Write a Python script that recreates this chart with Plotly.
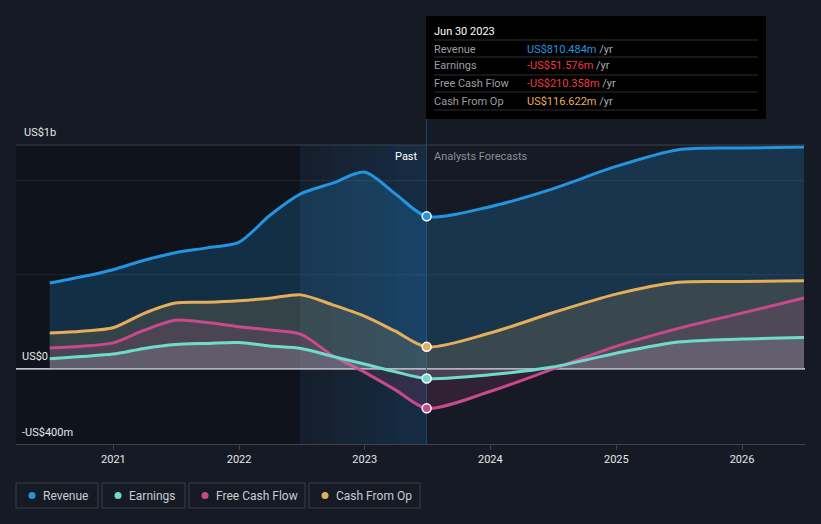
import plotly.graph_objects as go

# ---------------- data (US$ millions) ----------------
past_dates = ["2020-06-30", "2020-09-30", "2020-12-31", "2021-03-31", "2021-06-30",
              "2021-09-30", "2021-12-31", "2022-03-31", "2022-06-30", "2022-09-30",
              "2022-12-31", "2023-03-31", "2023-06-30"]
fc_dates = ["2023-12-31", "2024-06-30", "2024-12-31", "2025-06-30", "2025-12-31", "2026-06-30"]

revenue_past = [456, 489, 527, 577, 617, 643, 672, 815, 931, 987, 1046, 930, 810.484]
revenue_fc = [862, 957, 1076, 1165, 1174, 1179]

earnings_past = [53, 65, 78, 108, 129, 135, 140, 121, 108, 66, 25, -16, -51.576]
earnings_fc = [-32, 9, 83, 142, 158, 166]

fcf_past = [110, 120, 138, 205, 258, 246, 224, 206, 183, 70, -18, -112, -210.358]
fcf_fc = [-121, -2, 119, 215, 296, 376]

cfo_past = [190, 200, 218, 295, 350, 354, 362, 375, 393, 340, 280, 200, 116.622]
cfo_fc = [190, 298, 397, 460, 464, 468]

series_names = ["Revenue", "Earnings", "Free Cash Flow", "Cash From Op"]
tooltip_values = ["US$810.484m", "-US$51.576m", "-US$210.358m", "US$116.622m"]
year_ticks = ["2021", "2022", "2023", "2024", "2025", "2026"]

# ---------------- styling ----------------
W, H = 821, 524
L, R, T, B = 16, 805, 145, 444
BG = "#151a24"
colors = {"Revenue": "#2394df", "Earnings": "#6fdccb", "Free Cash Flow": "#c94a8b", "Cash From Op": "#e5ae5a"}
fills = {"Revenue": "rgba(35,148,223,0.22)", "Earnings": "rgba(180,190,210,0.2)",
         "Free Cash Flow": "rgba(201,74,139,0.16)", "Cash From Op": "rgba(229,174,90,0.16)"}


def px(x):
    return (x - L) / (R - L)


def py(y):
    return (B - y) / (B - T)


dates = past_dates + fc_dates
data = {
    "Revenue": revenue_past + revenue_fc,
    "Earnings": earnings_past + earnings_fc,
    "Free Cash Flow": fcf_past + fcf_fc,
    "Cash From Op": cfo_past + cfo_fc,
}

fig = go.Figure()
for name in ["Revenue", "Cash From Op", "Free Cash Flow", "Earnings"]:
    fig.add_trace(go.Scatter(
        x=dates, y=data[name], mode="lines", name=name,
        line=dict(color=colors[name], width=3, shape="spline", smoothing=0.8),
        fill="tozeroy", fillcolor=fills[name], hoverinfo="skip", showlegend=False))

# markers at Jun 30 2023
for name in ["Revenue", "Cash From Op", "Free Cash Flow", "Earnings"]:
    fig.add_trace(go.Scatter(
        x=[past_dates[-1]], y=[data[name][len(past_dates) - 1]], mode="markers",
        marker=dict(color=colors[name], size=9, line=dict(color="white", width=1.5)),
        hoverinfo="skip", showlegend=False, cliponaxis=False))

shapes = []
# darker past area
shapes.append(dict(type="rect", xref="paper", yref="paper", x0=0, x1=px(300), y0=0, y1=1,
                   fillcolor="rgba(5,8,14,0.35)", line_width=0, layer="below"))
# highlight gradient Jun22 - Jun23
n = 12
for i in range(n):
    x0 = 300 + (426 - 300) * i / n
    x1 = 300 + (426 - 300) * (i + 1) / n
    a = 0.06 + 0.16 * i / (n - 1)
    shapes.append(dict(type="rect", xref="paper", yref="paper", x0=px(x0), x1=px(x1), y0=0, y1=1,
                       fillcolor=f"rgba(30,110,180,{a:.3f})", line_width=0, layer="below"))
# gridlines
for yv in [1000, 500]:
    shapes.append(dict(type="line", xref="paper", yref="y", x0=0, x1=1, y0=yv, y1=yv,
                       line=dict(color="rgba(255,255,255,0.08)", width=1), layer="below"))
shapes.append(dict(type="line", xref="paper", yref="paper", x0=0, x1=1, y0=1, y1=1,
                   line=dict(color="#3d424c", width=1)))
shapes.append(dict(type="line", xref="paper", yref="y", x0=0, x1=1, y0=0, y1=0,
                   line=dict(color="#ffffff", width=1.2), layer="below"))
# vertical line at Jun 30 2023
shapes.append(dict(type="line", xref="paper", yref="paper", x0=px(426.5), x1=px(426.5), y0=0, y1=py(119),
                   line=dict(color="#1f4566", width=1), layer="below"))
# tooltip box
shapes.append(dict(type="rect", xref="paper", yref="paper", x0=px(426), x1=px(766), y0=py(119), y1=py(16),
                   fillcolor="#000000", line_width=0))
for yy in [40, 57, 75, 92, 110]:
    shapes.append(dict(type="line", xref="paper", yref="paper", x0=px(434), x1=px(758), y0=py(yy), y1=py(yy),
                       line=dict(color="#2e2e2e", width=1)))

annotations = []


def text(x, y, s, color="#d4d7dc", size=11, anchor="left", **kw):
    annotations.append(dict(xref="paper", yref="paper", x=px(x), y=py(y), text=s, showarrow=False,
                            xanchor=anchor, yanchor="middle", font=dict(color=color, size=size), **kw))


# tooltip text
text(432, 31, "Jun 30 2023", color="#ffffff", size=11)
row_y = [49, 66, 84, 101]
val_colors = ["#2394df", "#f0393f", "#f0393f", "#e5ae5a"]
for nm, v, c, yy in zip(series_names, tooltip_values, val_colors, row_y):
    text(432, yy, nm, color="#9a9ea6", size=11)
    text(525, yy, f"<span style='color:{c}'>{v}</span> /yr", color="#a8acb3", size=11)

# axis labels
text(22, 132, "US$1b", color="#e6e8eb", size=11)
text(20, 356, "US$0", color="#e6e8eb", size=11)
text(20, 432, "-US$400m", color="#e6e8eb", size=11)
text(420, 156, "Past", color="#ffffff", size=11, anchor="right")
text(432, 156, "Analysts Forecasts", color="#8a8f98", size=11)

# legend boxes
legend_boxes = [(16, 98), (102, 185), (189, 305), (309, 420)]
for nm, (x0, x1) in zip(series_names, legend_boxes):
    shapes.append(dict(type="rect", xref="paper", yref="paper", x0=px(x0), x1=px(x1), y0=py(508), y1=py(483),
                       line=dict(color="#3a3f4a", width=1), fillcolor="rgba(0,0,0,0)"))
    shapes.append(dict(type="circle", xref="paper", yref="paper", x0=px(x0 + 12.5), x1=px(x0 + 19.5),
                       y0=py(499), y1=py(492), fillcolor=colors[nm], line_width=0))
    text(x0 + 25, 495.5, nm, color="#c8ccd2", size=12)

fig.update_layout(
    width=W, height=H,
    margin=dict(l=L, r=W - R, t=T, b=H - B),
    paper_bgcolor=BG, plot_bgcolor=BG,
    font=dict(family="Roboto, sans-serif", color="#d4d7dc", size=11),
    shapes=shapes, annotations=annotations, showlegend=False,
    xaxis=dict(type="date", range=["2020-03-24", "2026-07-03"],
               tickvals=[f"{y}-01-01" for y in year_ticks], ticktext=year_ticks,
               showgrid=False, zeroline=False, showline=True, linecolor="#3d424c", linewidth=1,
               ticks="outside", ticklen=5, tickcolor="#3d424c",
               tickfont=dict(color="#e6e8eb", size=11)),
    yaxis=dict(range=[-400, 1190], showgrid=False, zeroline=False, showticklabels=False, fixedrange=True),
)

fig.write_html("out.html", config={"displayModeBar": False},
               post_script="document.body.style.margin='0';document.body.style.background='%s';" % BG)
